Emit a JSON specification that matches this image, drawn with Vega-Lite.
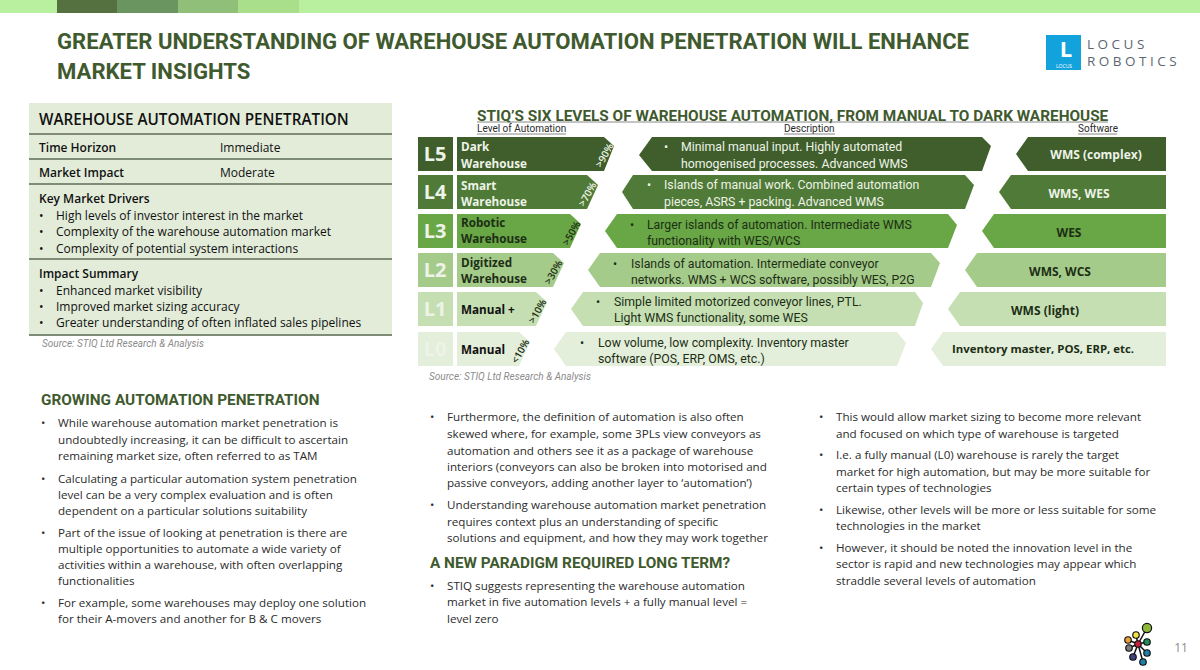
{
  "$schema": "https://vega.github.io/schema/vega-lite/v6.json",
  "description": "Warehouse automation penetration slide",
  "width": 1200,
  "height": 670,
  "autosize": {"type": "fit", "contains": "padding"},
  "padding": 0,
  "background": "#ffffff",
  "config": {"view": {"stroke": "transparent"}, "text": {"dy": 1}},
  "datasets": {
    "blocks": [
      {"tone": "band", "x": 0, "x2": 1200, "y": 0, "y2": 13},
      {"tone": "band1", "x": 57, "x2": 117, "y": 0, "y2": 13},
      {"tone": "band2", "x": 117, "x2": 178, "y": 0, "y2": 13},
      {"tone": "band3", "x": 178, "x2": 238, "y": 0, "y2": 13},
      {"tone": "band4", "x": 238, "x2": 299, "y": 0, "y2": 13},
      {"tone": "panel", "x": 29, "x2": 392, "y": 103, "y2": 335},
      {"tone": "logo", "x": 1046, "x2": 1081, "y": 35, "y2": 70},
      {"tone": "L5", "x": 418, "x2": 453, "y": 137, "y2": 171},
      {"tone": "L4", "x": 418, "x2": 453, "y": 175, "y2": 209},
      {"tone": "L3", "x": 418, "x2": 453, "y": 214, "y2": 248},
      {"tone": "L2", "x": 418, "x2": 453, "y": 253, "y2": 287},
      {"tone": "L1", "x": 418, "x2": 453, "y": 292, "y2": 326},
      {"tone": "L0", "x": 418, "x2": 453, "y": 332, "y2": 366}
    ],
    "chevrons": [
      {"id": "n5", "tone": "L5", "x": 457, "top": 137, "bottom": 171},
      {"id": "n5", "tone": "L5", "x": 604, "top": 137, "bottom": 171},
      {"id": "n5", "tone": "L5", "x": 614, "top": 146, "bottom": 146},
      {"id": "n4", "tone": "L4", "x": 457, "top": 175, "bottom": 209},
      {"id": "n4", "tone": "L4", "x": 587, "top": 175, "bottom": 209},
      {"id": "n4", "tone": "L4", "x": 598, "top": 185, "bottom": 185},
      {"id": "n3", "tone": "L3", "x": 457, "top": 214, "bottom": 248},
      {"id": "n3", "tone": "L3", "x": 570, "top": 214, "bottom": 248},
      {"id": "n3", "tone": "L3", "x": 581, "top": 224, "bottom": 224},
      {"id": "n2", "tone": "L2", "x": 457, "top": 253, "bottom": 287},
      {"id": "n2", "tone": "L2", "x": 553, "top": 253, "bottom": 287},
      {"id": "n2", "tone": "L2", "x": 564, "top": 263, "bottom": 263},
      {"id": "n1", "tone": "L1", "x": 457, "top": 292, "bottom": 326},
      {"id": "n1", "tone": "L1", "x": 536, "top": 292, "bottom": 326},
      {"id": "n1", "tone": "L1", "x": 547, "top": 302, "bottom": 302},
      {"id": "n0", "tone": "L0", "x": 457, "top": 332, "bottom": 366},
      {"id": "n0", "tone": "L0", "x": 519, "top": 332, "bottom": 366},
      {"id": "n0", "tone": "L0", "x": 530, "top": 342, "bottom": 342},

      {"id": "d5", "tone": "L5", "x": 639, "top": 155, "bottom": 155},
      {"id": "d5", "tone": "L5", "x": 652, "top": 137, "bottom": 171},
      {"id": "d5", "tone": "L5", "x": 982, "top": 137, "bottom": 171},
      {"id": "d5", "tone": "L5", "x": 991, "top": 146, "bottom": 146},
      {"id": "d4", "tone": "L4", "x": 622, "top": 192, "bottom": 192},
      {"id": "d4", "tone": "L4", "x": 633, "top": 175, "bottom": 209},
      {"id": "d4", "tone": "L4", "x": 965, "top": 175, "bottom": 209},
      {"id": "d4", "tone": "L4", "x": 974, "top": 185, "bottom": 185},
      {"id": "d3", "tone": "L3", "x": 605, "top": 231, "bottom": 231},
      {"id": "d3", "tone": "L3", "x": 617, "top": 214, "bottom": 248},
      {"id": "d3", "tone": "L3", "x": 948, "top": 214, "bottom": 248},
      {"id": "d3", "tone": "L3", "x": 957, "top": 225, "bottom": 225},
      {"id": "d2", "tone": "L2", "x": 588, "top": 270, "bottom": 270},
      {"id": "d2", "tone": "L2", "x": 600, "top": 253, "bottom": 287},
      {"id": "d2", "tone": "L2", "x": 931, "top": 253, "bottom": 287},
      {"id": "d2", "tone": "L2", "x": 940, "top": 263, "bottom": 263},
      {"id": "d1", "tone": "L1", "x": 571, "top": 309, "bottom": 309},
      {"id": "d1", "tone": "L1", "x": 583, "top": 292, "bottom": 326},
      {"id": "d1", "tone": "L1", "x": 915, "top": 292, "bottom": 326},
      {"id": "d1", "tone": "L1", "x": 923, "top": 303, "bottom": 303},
      {"id": "d0", "tone": "L0", "x": 554, "top": 349, "bottom": 349},
      {"id": "d0", "tone": "L0", "x": 566, "top": 332, "bottom": 366},
      {"id": "d0", "tone": "L0", "x": 897, "top": 332, "bottom": 366},
      {"id": "d0", "tone": "L0", "x": 906, "top": 343, "bottom": 343},

      {"id": "s5", "tone": "L5", "x": 1016, "top": 154, "bottom": 154},
      {"id": "s5", "tone": "L5", "x": 1028, "top": 137, "bottom": 171},
      {"id": "s5", "tone": "L5", "x": 1166, "top": 137, "bottom": 171},
      {"id": "s4", "tone": "L4", "x": 999, "top": 192, "bottom": 192},
      {"id": "s4", "tone": "L4", "x": 1011, "top": 175, "bottom": 209},
      {"id": "s4", "tone": "L4", "x": 1166, "top": 175, "bottom": 209},
      {"id": "s3", "tone": "L3", "x": 982, "top": 231, "bottom": 231},
      {"id": "s3", "tone": "L3", "x": 994, "top": 214, "bottom": 248},
      {"id": "s3", "tone": "L3", "x": 1166, "top": 214, "bottom": 248},
      {"id": "s2", "tone": "L2", "x": 965, "top": 270, "bottom": 270},
      {"id": "s2", "tone": "L2", "x": 977, "top": 253, "bottom": 287},
      {"id": "s2", "tone": "L2", "x": 1166, "top": 253, "bottom": 287},
      {"id": "s1", "tone": "L1", "x": 948, "top": 309, "bottom": 309},
      {"id": "s1", "tone": "L1", "x": 960, "top": 292, "bottom": 326},
      {"id": "s1", "tone": "L1", "x": 1166, "top": 292, "bottom": 326},
      {"id": "s0", "tone": "L0", "x": 931, "top": 349, "bottom": 349},
      {"id": "s0", "tone": "L0", "x": 943, "top": 332, "bottom": 366},
      {"id": "s0", "tone": "L0", "x": 1166, "top": 332, "bottom": 366}
    ],
    "rules": [
      {"kind": "table", "x": 29, "x2": 392, "y": 134},
      {"kind": "table", "x": 29, "x2": 392, "y": 159},
      {"kind": "table", "x": 29, "x2": 392, "y": 184},
      {"kind": "table", "x": 29, "x2": 392, "y": 259},
      {"kind": "table", "x": 29, "x2": 392, "y": 335},
      {"kind": "under", "x": 477, "x2": 1108, "y": 122},
      {"kind": "under", "x": 477, "x2": 566, "y": 134},
      {"kind": "under", "x": 784, "x2": 835, "y": 134},
      {"kind": "under", "x": 1078, "x2": 1117, "y": 134}
    ],
    "spokes": [
      {"x": 1138, "y": 644, "x2": 1147, "y2": 628},
      {"x": 1138, "y": 644, "x2": 1136, "y2": 635},
      {"x": 1138, "y": 644, "x2": 1128, "y2": 640},
      {"x": 1138, "y": 644, "x2": 1129, "y2": 648},
      {"x": 1138, "y": 644, "x2": 1133, "y2": 657},
      {"x": 1138, "y": 644, "x2": 1143, "y2": 662},
      {"x": 1138, "y": 644, "x2": 1147, "y2": 653},
      {"x": 1138, "y": 644, "x2": 1147, "y2": 642}
    ],
    "nodes": [
      {"kind": "big", "tone": "nodeLime", "x": 1147, "y": 628},
      {"kind": "small", "tone": "nodeRed", "x": 1138, "y": 644},
      {"kind": "small", "tone": "nodeYellow", "x": 1136, "y": 635},
      {"kind": "small", "tone": "nodeOrange", "x": 1128, "y": 640},
      {"kind": "small", "tone": "nodeGray", "x": 1129, "y": 648},
      {"kind": "small", "tone": "nodePurple", "x": 1133, "y": 657},
      {"kind": "small", "tone": "nodeBlue", "x": 1143, "y": 662},
      {"kind": "small", "tone": "nodeBlue", "x": 1147, "y": 653},
      {"kind": "small", "tone": "nodeGreen", "x": 1147, "y": 642}
    ],
    "texts": [
      {"kind": "title", "tone": "heading", "x": 57, "y": 41, "text": "GREATER UNDERSTANDING OF WAREHOUSE AUTOMATION PENETRATION WILL ENHANCE"},
      {"kind": "title", "tone": "heading", "x": 57, "y": 71, "text": "MARKET INSIGHTS"},

      {"kind": "panelhead", "tone": "black", "x": 39, "y": 119, "text": "WAREHOUSE AUTOMATION PENETRATION"},
      {"kind": "tablebold", "tone": "black", "x": 39, "y": 147, "text": "Time Horizon"},
      {"kind": "table", "tone": "black", "x": 220, "y": 147, "text": "Immediate"},
      {"kind": "tablebold", "tone": "black", "x": 39, "y": 172, "text": "Market Impact"},
      {"kind": "table", "tone": "black", "x": 220, "y": 172, "text": "Moderate"},
      {"kind": "tablebold", "tone": "black", "x": 39, "y": 198, "text": "Key Market Drivers"},
      {"kind": "table", "tone": "black", "x": 39, "y": 215, "text": "•"},
      {"kind": "table", "tone": "black", "x": 56, "y": 215, "text": "High levels of investor interest in the market"},
      {"kind": "table", "tone": "black", "x": 39, "y": 231, "text": "•"},
      {"kind": "table", "tone": "black", "x": 56, "y": 231, "text": "Complexity of the warehouse automation market"},
      {"kind": "table", "tone": "black", "x": 39, "y": 248, "text": "•"},
      {"kind": "table", "tone": "black", "x": 56, "y": 248, "text": "Complexity of potential system interactions"},
      {"kind": "tablebold", "tone": "black", "x": 39, "y": 273, "text": "Impact Summary"},
      {"kind": "table", "tone": "black", "x": 39, "y": 290, "text": "•"},
      {"kind": "table", "tone": "black", "x": 56, "y": 290, "text": "Enhanced market visibility"},
      {"kind": "table", "tone": "black", "x": 39, "y": 306, "text": "•"},
      {"kind": "table", "tone": "black", "x": 56, "y": 306, "text": "Improved market sizing accuracy"},
      {"kind": "table", "tone": "black", "x": 39, "y": 322, "text": "•"},
      {"kind": "table", "tone": "black", "x": 56, "y": 322, "text": "Greater understanding of often inflated sales pipelines"},

      {"kind": "source", "tone": "muted", "x": 42, "y": 343, "text": "Source: STIQ Ltd Research & Analysis"},
      {"kind": "source", "tone": "muted", "x": 429, "y": 376, "text": "Source: STIQ Ltd Research & Analysis"},

      {"kind": "section", "tone": "heading", "x": 477, "y": 115, "text": "STIQ’S SIX LEVELS OF WAREHOUSE AUTOMATION, FROM MANUAL TO DARK WAREHOUSE"},
      {"kind": "column", "tone": "body", "x": 477, "y": 128, "text": "Level of Automation"},
      {"kind": "column", "tone": "body", "x": 784, "y": 128, "text": "Description"},
      {"kind": "column", "tone": "body", "x": 1078, "y": 128, "text": "Software"},

      {"kind": "level", "tone": "onDark", "x": 435, "y": 154, "text": "L5"},
      {"kind": "level", "tone": "onDark", "x": 435, "y": 192, "text": "L4"},
      {"kind": "level", "tone": "onDark", "x": 435, "y": 231, "text": "L3"},
      {"kind": "level", "tone": "onDark", "x": 435, "y": 270, "text": "L2"},
      {"kind": "level", "tone": "onDark", "x": 435, "y": 309, "text": "L1"},
      {"kind": "level", "tone": "onDark", "x": 435, "y": 349, "text": "L0"},

      {"kind": "name", "tone": "onDark", "x": 461, "y": 146, "text": "Dark"},
      {"kind": "name", "tone": "onDark", "x": 461, "y": 163, "text": "Warehouse"},
      {"kind": "name", "tone": "onDark", "x": 461, "y": 185, "text": "Smart"},
      {"kind": "name", "tone": "onDark", "x": 461, "y": 201, "text": "Warehouse"},
      {"kind": "name", "tone": "onLight", "x": 461, "y": 222, "text": "Robotic"},
      {"kind": "name", "tone": "onLight", "x": 461, "y": 238, "text": "Warehouse"},
      {"kind": "name", "tone": "onLight", "x": 461, "y": 262, "text": "Digitized"},
      {"kind": "name", "tone": "onLight", "x": 461, "y": 278, "text": "Warehouse"},
      {"kind": "name", "tone": "black", "x": 461, "y": 309, "text": "Manual +"},
      {"kind": "name", "tone": "black", "x": 461, "y": 349, "text": "Manual"},

      {"kind": "share", "tone": "onDark", "x": 604, "y": 155, "text": ">90%"},
      {"kind": "share", "tone": "onDark", "x": 587, "y": 194, "text": ">70%"},
      {"kind": "share", "tone": "onLight", "x": 571, "y": 233, "text": ">50%"},
      {"kind": "share", "tone": "onLight", "x": 553, "y": 272, "text": ">30%"},
      {"kind": "share", "tone": "onLight", "x": 537, "y": 311, "text": ">10%"},
      {"kind": "share", "tone": "onLight", "x": 520, "y": 351, "text": "<10%"},

      {"kind": "desc", "tone": "onDark", "x": 664, "y": 146, "text": "•"},
      {"kind": "desc", "tone": "onDark", "x": 681, "y": 146, "text": "Minimal manual input. Highly automated"},
      {"kind": "desc", "tone": "onDark", "x": 681, "y": 163, "text": "homogenised processes. Advanced WMS"},
      {"kind": "desc", "tone": "onDark", "x": 647, "y": 184, "text": "•"},
      {"kind": "desc", "tone": "onDark", "x": 664, "y": 184, "text": "Islands of manual work. Combined automation"},
      {"kind": "desc", "tone": "onDark", "x": 664, "y": 201, "text": "pieces, ASRS + packing. Advanced WMS"},
      {"kind": "desc", "tone": "onLight", "x": 630, "y": 224, "text": "•"},
      {"kind": "desc", "tone": "onLight", "x": 647, "y": 224, "text": "Larger islands of automation. Intermediate WMS"},
      {"kind": "desc", "tone": "onLight", "x": 647, "y": 240, "text": "functionality with WES/WCS"},
      {"kind": "desc", "tone": "onLight", "x": 613, "y": 263, "text": "•"},
      {"kind": "desc", "tone": "onLight", "x": 631, "y": 263, "text": "Islands of automation. Intermediate conveyor"},
      {"kind": "desc", "tone": "onLight", "x": 631, "y": 279, "text": "networks. WMS + WCS software, possibly WES, P2G"},
      {"kind": "desc", "tone": "onLight", "x": 596, "y": 301, "text": "•"},
      {"kind": "desc", "tone": "onLight", "x": 614, "y": 301, "text": "Simple limited motorized conveyor lines, PTL."},
      {"kind": "desc", "tone": "onLight", "x": 614, "y": 317, "text": "Light WMS functionality, some WES"},
      {"kind": "desc", "tone": "onLight", "x": 580, "y": 342, "text": "•"},
      {"kind": "desc", "tone": "onLight", "x": 598, "y": 342, "text": "Low volume, low complexity. Inventory master"},
      {"kind": "desc", "tone": "onLight", "x": 598, "y": 358, "text": "software (POS, ERP, OMS, etc.)"},

      {"kind": "soft", "tone": "onDark", "x": 1096, "y": 154, "text": "WMS (complex)"},
      {"kind": "soft", "tone": "onDark", "x": 1079, "y": 193, "text": "WMS, WES"},
      {"kind": "soft", "tone": "onLight", "x": 1069, "y": 232, "text": "WES"},
      {"kind": "soft", "tone": "onLight", "x": 1060, "y": 271, "text": "WMS, WCS"},
      {"kind": "soft", "tone": "onLight", "x": 1045, "y": 310, "text": "WMS (light)"},
      {"kind": "softlong", "tone": "onLight", "x": 1043, "y": 349, "text": "Inventory master, POS, ERP, etc."},

      {"kind": "section", "tone": "heading", "x": 41, "y": 399, "text": "GROWING AUTOMATION PENETRATION"},
      {"kind": "section", "tone": "heading", "x": 430, "y": 562, "text": "A NEW PARADIGM REQUIRED LONG TERM?"},

      {"kind": "body", "tone": "body", "x": 41, "y": 423, "text": "•"},
      {"kind": "body", "tone": "body", "x": 58, "y": 423, "text": "While warehouse automation market penetration is"},
      {"kind": "body", "tone": "body", "x": 58, "y": 440, "text": "undoubtedly increasing, it can be difficult to ascertain"},
      {"kind": "body", "tone": "body", "x": 58, "y": 456, "text": "remaining market size, often referred to as TAM"},
      {"kind": "body", "tone": "body", "x": 41, "y": 479, "text": "•"},
      {"kind": "body", "tone": "body", "x": 58, "y": 479, "text": "Calculating a particular automation system penetration"},
      {"kind": "body", "tone": "body", "x": 58, "y": 495, "text": "level can be a very complex evaluation and is often"},
      {"kind": "body", "tone": "body", "x": 58, "y": 511, "text": "dependent on a particular solutions suitability"},
      {"kind": "body", "tone": "body", "x": 41, "y": 533, "text": "•"},
      {"kind": "body", "tone": "body", "x": 58, "y": 533, "text": "Part of the issue of looking at penetration is there are"},
      {"kind": "body", "tone": "body", "x": 58, "y": 549, "text": "multiple opportunities to automate a wide variety of"},
      {"kind": "body", "tone": "body", "x": 58, "y": 565, "text": "activities within a warehouse, with often overlapping"},
      {"kind": "body", "tone": "body", "x": 58, "y": 581, "text": "functionalities"},
      {"kind": "body", "tone": "body", "x": 41, "y": 603, "text": "•"},
      {"kind": "body", "tone": "body", "x": 58, "y": 603, "text": "For example, some warehouses may deploy one solution"},
      {"kind": "body", "tone": "body", "x": 58, "y": 619, "text": "for their A-movers and another for B & C movers"},

      {"kind": "body", "tone": "body", "x": 430, "y": 417, "text": "•"},
      {"kind": "body", "tone": "body", "x": 447, "y": 417, "text": "Furthermore, the definition of automation is also often"},
      {"kind": "body", "tone": "body", "x": 447, "y": 434, "text": "skewed where, for example, some 3PLs view conveyors as"},
      {"kind": "body", "tone": "body", "x": 447, "y": 451, "text": "automation and others see it as a package of warehouse"},
      {"kind": "body", "tone": "body", "x": 447, "y": 467, "text": "interiors (conveyors can also be broken into motorised and"},
      {"kind": "body", "tone": "body", "x": 447, "y": 483, "text": "passive conveyors, adding another layer to ‘automation’)"},
      {"kind": "body", "tone": "body", "x": 430, "y": 505, "text": "•"},
      {"kind": "body", "tone": "body", "x": 447, "y": 505, "text": "Understanding warehouse automation market penetration"},
      {"kind": "body", "tone": "body", "x": 447, "y": 522, "text": "requires context plus an understanding of specific"},
      {"kind": "body", "tone": "body", "x": 447, "y": 538, "text": "solutions and equipment, and how they may work together"},
      {"kind": "body", "tone": "body", "x": 430, "y": 586, "text": "•"},
      {"kind": "body", "tone": "body", "x": 447, "y": 586, "text": "STIQ suggests representing the warehouse automation"},
      {"kind": "body", "tone": "body", "x": 447, "y": 602, "text": "market in five automation levels + a fully manual level ="},
      {"kind": "body", "tone": "body", "x": 447, "y": 619, "text": "level zero"},

      {"kind": "body", "tone": "body", "x": 819, "y": 417, "text": "•"},
      {"kind": "body", "tone": "body", "x": 836, "y": 417, "text": "This would allow market sizing to become more relevant"},
      {"kind": "body", "tone": "body", "x": 836, "y": 434, "text": "and focused on which type of warehouse is targeted"},
      {"kind": "body", "tone": "body", "x": 819, "y": 455, "text": "•"},
      {"kind": "body", "tone": "body", "x": 836, "y": 455, "text": "I.e. a fully manual (L0) warehouse is rarely the target"},
      {"kind": "body", "tone": "body", "x": 836, "y": 472, "text": "market for high automation, but may be more suitable for"},
      {"kind": "body", "tone": "body", "x": 836, "y": 488, "text": "certain types of technologies"},
      {"kind": "body", "tone": "body", "x": 819, "y": 510, "text": "•"},
      {"kind": "body", "tone": "body", "x": 836, "y": 510, "text": "Likewise, other levels will be more or less suitable for some"},
      {"kind": "body", "tone": "body", "x": 836, "y": 526, "text": "technologies in the market"},
      {"kind": "body", "tone": "body", "x": 819, "y": 548, "text": "•"},
      {"kind": "body", "tone": "body", "x": 836, "y": 548, "text": "However, it should be noted the innovation level in the"},
      {"kind": "body", "tone": "body", "x": 836, "y": 564, "text": "sector is rapid and new technologies may appear which"},
      {"kind": "body", "tone": "body", "x": 836, "y": 581, "text": "straddle several levels of automation"},

      {"kind": "page", "tone": "muted", "x": 1181, "y": 647, "text": "11"},
      {"kind": "brand", "tone": "brand", "x": 1087, "y": 44, "text": "L O C U S"},
      {"kind": "brand", "tone": "brand", "x": 1087, "y": 61, "text": "R O B O T I C S"},
      {"kind": "brandmark", "tone": "white", "x": 1066, "y": 49, "text": "L"},
      {"kind": "brandsmall", "tone": "white", "x": 1064, "y": 65, "text": "LOCUS"}
    ]
  },
  "encoding": {
    "x": {"field": "x", "type": "quantitative", "axis": null, "scale": {"domain": [0, 1200], "nice": false, "zero": false}},
    "y": {"field": "y", "type": "quantitative", "axis": null, "scale": {"domain": [0, 670], "reverse": true, "nice": false, "zero": false}},
    "color": {
      "field": "tone",
      "type": "nominal",
      "legend": null,
      "scale": {
        "domain": ["band", "band1", "band2", "band3", "band4", "panel", "logo", "L5", "L4", "L3", "L2", "L1", "L0", "heading", "black", "body", "muted", "onDark", "onLight", "brand", "white", "nodeLime", "nodeRed", "nodeYellow", "nodeOrange", "nodeGray", "nodePurple", "nodeBlue", "nodeGreen"],
        "range": ["#b8f0a0", "#55713f", "#6b9560", "#90bf7a", "#a9de8b", "#e2ecd9", "#12a3dc", "#3f5e2b", "#4f7a37", "#68a646", "#a5cb8b", "#c5dfb3", "#e3eedb", "#3f5a2e", "#111111", "#2b2b2b", "#8c8c8c", "#eef3e8", "#1d2e15", "#5c6670", "#ffffff", "#8db93b", "#c4223a", "#f3e04a", "#e8a33a", "#7d7d7d", "#40407f", "#1f7fa8", "#1f8a5a"]
      }
    }
  },
  "layer": [
    {
      "data": {"name": "blocks"},
      "mark": {"type": "rect"},
      "encoding": {
        "x2": {"field": "x2"},
        "y2": {"field": "y2"}
      }
    },
    {
      "data": {"name": "chevrons"},
      "mark": {"type": "area", "opacity": 1},
      "encoding": {
        "y": {"field": "top", "type": "quantitative"},
        "y2": {"field": "bottom"},
        "detail": {"field": "id"}
      }
    },
    {
      "data": {"name": "rules"},
      "transform": [{"filter": "datum.kind === 'table'"}],
      "mark": {"type": "rule", "color": "#7f8c78", "strokeWidth": 2},
      "encoding": {"x2": {"field": "x2"}, "color": {"value": "#7f8c78"}}
    },
    {
      "data": {"name": "rules"},
      "transform": [{"filter": "datum.kind === 'under'"}],
      "mark": {"type": "rule", "strokeWidth": 0.8},
      "encoding": {"x2": {"field": "x2"}, "color": {"value": "#6b6b6b"}}
    },
    {
      "data": {"name": "spokes"},
      "mark": {"type": "rule", "strokeWidth": 1.5},
      "encoding": {"x2": {"field": "x2"}, "y2": {"field": "y2"}, "color": {"value": "#111111"}}
    },
    {
      "data": {"name": "nodes"},
      "transform": [{"filter": "datum.kind === 'small'"}],
      "mark": {"type": "circle", "size": 42, "opacity": 1, "stroke": "#111111", "strokeWidth": 1.2}
    },
    {
      "data": {"name": "nodes"},
      "transform": [{"filter": "datum.kind === 'big'"}],
      "mark": {"type": "circle", "size": 85, "opacity": 1, "stroke": "#111111", "strokeWidth": 1.2}
    },
    {
      "data": {"name": "texts"},
      "transform": [{"filter": "datum.kind === 'title'"}],
      "mark": {"type": "text", "align": "left", "baseline": "middle", "font": "Roboto", "fontWeight": 700, "fontSize": 22.1, "dy": 1},
      "encoding": {"text": {"field": "text"}}
    },
    {
      "data": {"name": "texts"},
      "transform": [{"filter": "datum.kind === 'section'"}],
      "mark": {"type": "text", "align": "left", "baseline": "middle", "font": "Roboto", "fontWeight": 700, "fontSize": 15.35},
      "encoding": {"text": {"field": "text"}}
    },
    {
      "data": {"name": "texts"},
      "transform": [{"filter": "datum.kind === 'panelhead'"}],
      "mark": {"type": "text", "align": "left", "baseline": "middle", "font": "Open Sans", "fontWeight": 600, "fontSize": 15.25},
      "encoding": {"text": {"field": "text"}}
    },
    {
      "data": {"name": "texts"},
      "transform": [{"filter": "datum.kind === 'tablebold'"}],
      "mark": {"type": "text", "align": "left", "baseline": "middle", "font": "Open Sans", "fontWeight": 600, "fontSize": 12},
      "encoding": {"text": {"field": "text"}}
    },
    {
      "data": {"name": "texts"},
      "transform": [{"filter": "datum.kind === 'table'"}],
      "mark": {"type": "text", "align": "left", "baseline": "middle", "font": "Open Sans", "fontSize": 12},
      "encoding": {"text": {"field": "text"}}
    },
    {
      "data": {"name": "texts"},
      "transform": [{"filter": "datum.kind === 'source'"}],
      "mark": {"type": "text", "align": "left", "baseline": "middle", "font": "Roboto", "fontStyle": "italic", "fontSize": 10},
      "encoding": {"text": {"field": "text"}}
    },
    {
      "data": {"name": "texts"},
      "transform": [{"filter": "datum.kind === 'column'"}],
      "mark": {"type": "text", "align": "left", "baseline": "middle", "font": "Roboto", "fontSize": 10},
      "encoding": {"text": {"field": "text"}}
    },
    {
      "data": {"name": "texts"},
      "transform": [{"filter": "datum.kind === 'level'"}],
      "mark": {"type": "text", "align": "center", "baseline": "middle", "font": "Open Sans", "fontWeight": 700, "fontSize": 20},
      "encoding": {"text": {"field": "text"}}
    },
    {
      "data": {"name": "texts"},
      "transform": [{"filter": "datum.kind === 'name'"}],
      "mark": {"type": "text", "align": "left", "baseline": "middle", "font": "Open Sans", "fontWeight": 700, "fontSize": 11.7},
      "encoding": {"text": {"field": "text"}}
    },
    {
      "data": {"name": "texts"},
      "transform": [{"filter": "datum.kind === 'share'"}],
      "mark": {"type": "text", "align": "center", "baseline": "middle", "font": "Open Sans", "fontWeight": 600, "fontSize": 10, "angle": -60},
      "encoding": {"text": {"field": "text"}}
    },
    {
      "data": {"name": "texts"},
      "transform": [{"filter": "datum.kind === 'desc'"}],
      "mark": {"type": "text", "align": "left", "baseline": "middle", "font": "Roboto", "fontSize": 12.3},
      "encoding": {"text": {"field": "text"}}
    },
    {
      "data": {"name": "texts"},
      "transform": [{"filter": "datum.kind === 'soft'"}],
      "mark": {"type": "text", "align": "center", "baseline": "middle", "font": "Open Sans", "fontWeight": 700, "fontSize": 12},
      "encoding": {"text": {"field": "text"}}
    },
    {
      "data": {"name": "texts"},
      "transform": [{"filter": "datum.kind === 'softlong'"}],
      "mark": {"type": "text", "align": "center", "baseline": "middle", "font": "Open Sans", "fontWeight": 700, "fontSize": 11.4},
      "encoding": {"text": {"field": "text"}}
    },
    {
      "data": {"name": "texts"},
      "transform": [{"filter": "datum.kind === 'body'"}],
      "mark": {"type": "text", "align": "left", "baseline": "middle", "font": "Open Sans", "fontSize": 11.65},
      "encoding": {"text": {"field": "text"}}
    },
    {
      "data": {"name": "texts"},
      "transform": [{"filter": "datum.kind === 'page'"}],
      "mark": {"type": "text", "align": "center", "baseline": "middle", "font": "Open Sans", "fontSize": 12},
      "encoding": {"text": {"field": "text"}}
    },
    {
      "data": {"name": "texts"},
      "transform": [{"filter": "datum.kind === 'brand'"}],
      "mark": {"type": "text", "align": "left", "baseline": "middle", "font": "Open Sans", "fontSize": 13.5},
      "encoding": {"text": {"field": "text"}}
    },
    {
      "data": {"name": "texts"},
      "transform": [{"filter": "datum.kind === 'brandmark'"}],
      "mark": {"type": "text", "align": "center", "baseline": "middle", "font": "Open Sans", "fontWeight": 700, "fontSize": 22},
      "encoding": {"text": {"field": "text"}}
    },
    {
      "data": {"name": "texts"},
      "transform": [{"filter": "datum.kind === 'brandsmall'"}],
      "mark": {"type": "text", "align": "center", "baseline": "middle", "font": "Open Sans", "fontSize": 5},
      "encoding": {"text": {"field": "text"}}
    }
  ]
}
